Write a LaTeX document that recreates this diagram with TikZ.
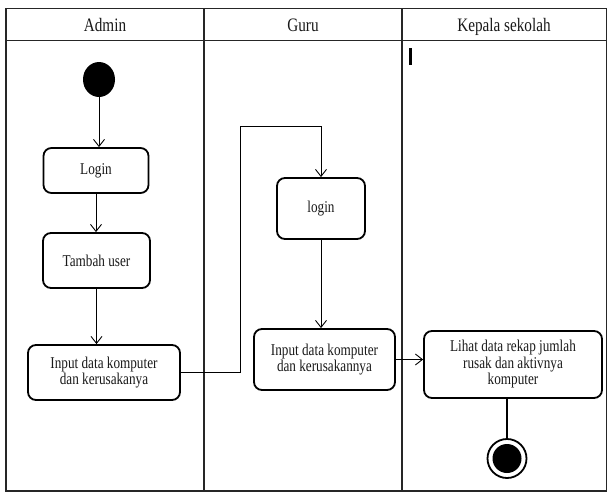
\documentclass[tikz,border=0pt]{standalone}
\usepackage{fontspec}
\setmainfont[FakeStretch=0.8]{Liberation Serif}
\usetikzlibrary{arrows.meta,shapes.geometric}

\begin{document}
\begin{tikzpicture}[x=1pt,y=-1pt,
  lane/.style={line width=1.2pt,draw=black!85},
  act/.style={draw=black,line width=1.8pt,rounded corners=8pt,align=center,
    font=\fontsize{16.5}{16.5}\selectfont,text=black!90,inner sep=2pt},
  head/.style={font=\fontsize{19}{21}\selectfont,text=black!90,anchor=base},
  flow/.style={line width=0.9pt,-{Straight Barb[length=7pt,width=11pt,line width=0.9pt]}},
  link/.style={line width=0.9pt}]

  % canvas
  \useasboundingbox (0,0) rectangle (608,493);
  \fill[white] (0,0) rectangle (608,493);

  % swimlane frame, header row and lane dividers
  \draw[lane] (6,8.5) rectangle (606.5,491);
  \draw[lane] (6,40.5) -- (606.5,40.5);
  \draw[lane] (204,8.5) -- (204,491);
  \draw[lane] (402,8.5) -- (402,491);

  \node[head] (hAdmin) at (105,31.5) {Admin};
  \node[head] (hGuru)  at (303,31.5) {Guru};
  \node[head] (hKepala) at (504,31.5) {Kepala sekolah};

  % text cursor mark in the third lane
  \draw[line width=2.2pt] (410.5,48) -- (410.5,64.5);

  % initial node
  \node[ellipse,fill=black,minimum width=32pt,minimum height=35pt,inner sep=0pt] (start) at (99,79.5) {};

  % activities
  \node[act,minimum width=105pt,minimum height=45pt] (login1) at (96,170.5) {Login};
  \node[act,minimum width=107pt,minimum height=55pt] (tambah) at (96.5,260.5) {Tambah user};
  \node[act,minimum width=152pt,minimum height=55pt] (input1) at (104,372.5) {Input data komputer\\dan kerusakanya};
  \node[act,minimum width=88pt,minimum height=61pt] (login2) at (321,208.5) {login};
  \node[act,minimum width=141pt,minimum height=61pt] (input2) at (324.5,359.5) {Input data komputer\\dan kerusakannya};
  \node[act,minimum width=178pt,minimum height=67pt] (lihat) at (513,364.5) {Lihat data rekap jumlah\\rusak dan aktivnya\\komputer};

  % final node
  \node[circle,draw=black,line width=1.8pt,minimum size=39pt,inner sep=0pt] (end) at (507,458.5) {};
  \node[circle,fill=black,minimum size=29pt,inner sep=0pt] (endDot) at (end.center) {};

  % flows
  \coordinate (bend) at (240,126);
  \draw[flow] (start.south) -- (start.south |- login1.north);
  \draw[flow] (login1.south) -- (login1.south |- tambah.north);
  \draw[flow] (tambah.south) -- (tambah.south |- input1.north);
  \draw[flow] (input1.east) -| (bend) -| (login2.north);
  \draw[flow] (login2.south) -- (login2.south |- input2.north);
  \draw[flow] (input2.east) -- (input2.east -| lihat.west);
  \draw[link,line width=1.6pt] (end |- lihat.south) -- (end.north);
\end{tikzpicture}
\end{document}
